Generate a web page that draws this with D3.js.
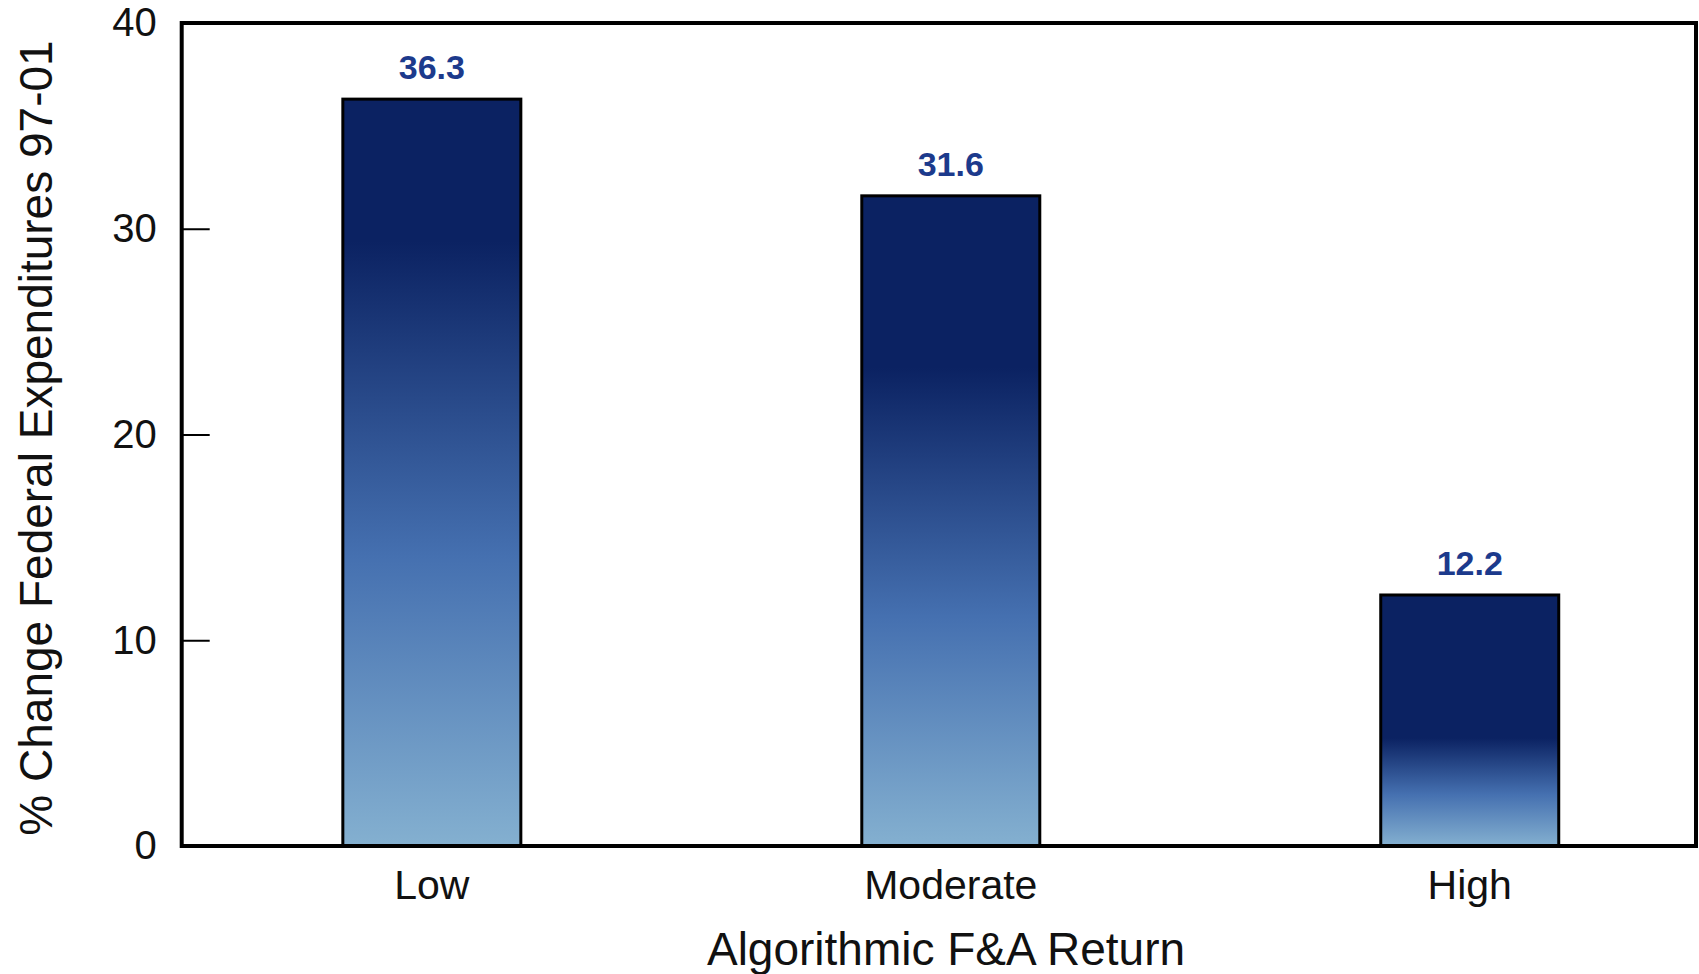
<!DOCTYPE html>
<html>
<head>
<meta charset="utf-8">
<script src="https://cdn.jsdelivr.net/npm/d3@7"></script>
<style>
  html, body { margin: 0; padding: 0; background: #fff; }
  svg { display: block; }
  text { font-family: "Liberation Sans", Arial, Helvetica, sans-serif; }
</style>
</head>
<body>
<svg id="chart" width="1699" height="974"></svg>
<script>
// Data
const categories = ["Low", "Moderate", "High"];
const values = [36.3, 31.6, 12.2];
const yTicks = [0, 10, 20, 30, 40];
const xTitle = "Algorithmic F&A Return";
const yTitle = "% Change Federal Expenditures 97-01";

// Layout
const W = 1699, H = 974;
const plot = { left: 181.7, right: 1696, top: 23, bottom: 846 };

const svg = d3.select("#chart");

const x = d3.scaleBand()
  .domain(categories)
  .range([plot.left, plot.right])
  .paddingInner(0.657)
  .paddingOuter(0.2875)
  .align(0.54);

const y = d3.scaleLinear()
  .domain([0, 40])
  .range([plot.bottom, plot.top]);

// Bar gradients: navy at the top fading to light steel blue at the base.
const dark = "#0b2262", mid = "#4570b0", light = "#84b0d0";
const defs = svg.append("defs");
values.forEach((v, i) => {
  const h = y(0) - y(v);
  const darkEnd = Math.max(0.12, Math.min(0.6, 0.57 - 0.000765 * (h - 251)));
  const midAt = darkEnd + (1 - darkEnd) * 0.52;
  const g = defs.append("linearGradient")
    .attr("id", "barGrad" + i)
    .attr("x1", 0).attr("y1", 0).attr("x2", 0).attr("y2", 1);
  g.append("stop").attr("offset", 0).attr("stop-color", dark);
  g.append("stop").attr("offset", darkEnd).attr("stop-color", dark);
  g.append("stop").attr("offset", midAt).attr("stop-color", mid);
  g.append("stop").attr("offset", 1).attr("stop-color", light);
});

// Bars
svg.append("g")
  .selectAll("rect")
  .data(values)
  .join("rect")
  .attr("x", (d, i) => x(categories[i]))
  .attr("y", d => y(d))
  .attr("width", x.bandwidth())
  .attr("height", d => y(0) - y(d))
  .attr("fill", (d, i) => `url(#barGrad${i})`)
  .attr("stroke", "#000")
  .attr("stroke-width", 3);

// Value labels
svg.append("g")
  .selectAll("text")
  .data(values)
  .join("text")
  .attr("x", (d, i) => x(categories[i]) + x.bandwidth() / 2)
  .attr("y", d => y(d) - 20)
  .attr("text-anchor", "middle")
  .attr("font-size", 34)
  .attr("font-weight", "bold")
  .attr("fill", "#1c3a8c")
  .text(d => d.toFixed(1));

// Y axis with inward ticks
const yAxis = svg.append("g")
  .attr("transform", `translate(${plot.left},0)`)
  .call(d3.axisLeft(y).tickValues(yTicks).tickSizeInner(-28).tickSizeOuter(0).tickPadding(25));
yAxis.select(".domain").remove();
yAxis.selectAll(".tick line").attr("stroke", "#000").attr("stroke-width", 2);
yAxis.selectAll(".tick text")
  .attr("font-size", 40)
  .attr("fill", "#111")
  .attr("font-family", "'Liberation Sans', Arial, sans-serif");

// X axis category labels
const xAxis = svg.append("g")
  .attr("transform", `translate(0,${plot.bottom})`)
  .call(d3.axisBottom(x).tickSize(0).tickPadding(0));
xAxis.select(".domain").remove();
xAxis.selectAll(".tick text")
  .attr("y", 53)
  .attr("dy", null)
  .attr("font-size", 41)
  .attr("fill", "#111")
  .attr("font-family", "'Liberation Sans', Arial, sans-serif");

// Plot frame
svg.append("rect")
  .attr("x", plot.left)
  .attr("y", plot.top)
  .attr("width", plot.right - plot.left)
  .attr("height", plot.bottom - plot.top)
  .attr("fill", "none")
  .attr("stroke", "#000")
  .attr("stroke-width", 4);

// Axis titles
svg.append("text")
  .attr("x", 946)
  .attr("y", 965)
  .attr("text-anchor", "middle")
  .attr("font-size", 46)
  .attr("fill", "#111")
  .text(xTitle);

svg.append("text")
  .attr("transform", "translate(52,438) rotate(-90)")
  .attr("text-anchor", "middle")
  .attr("font-size", 46)
  .attr("fill", "#111")
  .text(yTitle);
</script>
</body>
</html>
